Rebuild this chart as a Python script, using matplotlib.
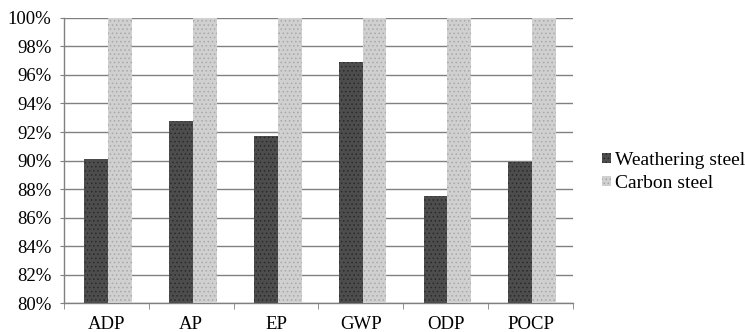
import matplotlib.pyplot as plt
import numpy as np

categorias = ['ADP', 'AP', 'EP', 'GWP', 'ODP', 'POCP']
weathering = [90.1, 92.75, 91.7, 96.9, 87.5, 89.9]
carbon = [100, 100, 100, 100, 100, 100]

plt.rcParams['font.family'] = ['Liberation Serif', 'DejaVu Serif']
plt.rcParams['hatch.linewidth'] = 0.6

fig = plt.figure(figsize=(7.45, 3.32), dpi=100)
ax = fig.add_axes([0.086, 0.087, 0.683, 0.859])

x = np.arange(len(categorias))
w = 0.28
b1 = ax.bar(x - w / 2 + 0.02, np.array(weathering) - 80, w, bottom=80,
            color='#4d4d4d', edgecolor='#2a2a2a', hatch='....', linewidth=0,
            label='Weathering steel', zorder=3)
b2 = ax.bar(x + w / 2 + 0.02, np.array(carbon) - 80, w, bottom=80,
            color='#d0d0d0', edgecolor='#a8a8a8', hatch='....', linewidth=0,
            label='Carbon steel', zorder=3)

ax.set_ylim(80, 100)
ax.set_xlim(-0.5, len(categorias) - 0.5)
ax.set_yticks(np.arange(80, 101, 2))
ax.set_yticklabels([f'{v}%' for v in range(80, 101, 2)], fontsize=13.5)
ax.yaxis.grid(True, color='#808080', linewidth=1.0, zorder=0)
ax.tick_params(axis='y', length=3, color='#808080', pad=6)

ax.set_xticks(x)
ax.set_xticklabels(categorias, fontsize=13.5)
ax.tick_params(axis='x', length=0, pad=9)
ax.set_xticks(np.arange(-0.5, len(categorias) + 0.5, 1), minor=True)
ax.tick_params(axis='x', which='minor', length=4, color='#808080', direction='out')

for s in ['top', 'right']:
    ax.spines[s].set_visible(False)
for s in ['left', 'bottom']:
    ax.spines[s].set_color('#808080')
    ax.spines[s].set_linewidth(1.0)

ax.legend(loc='center left', bbox_to_anchor=(1.03, 0.46), frameon=False,
          fontsize=14, handlelength=0.45, handleheight=0.45, handletextpad=0.25,
          labelspacing=0.3, borderaxespad=0.3)

fig.savefig('out.png', dpi=100)
